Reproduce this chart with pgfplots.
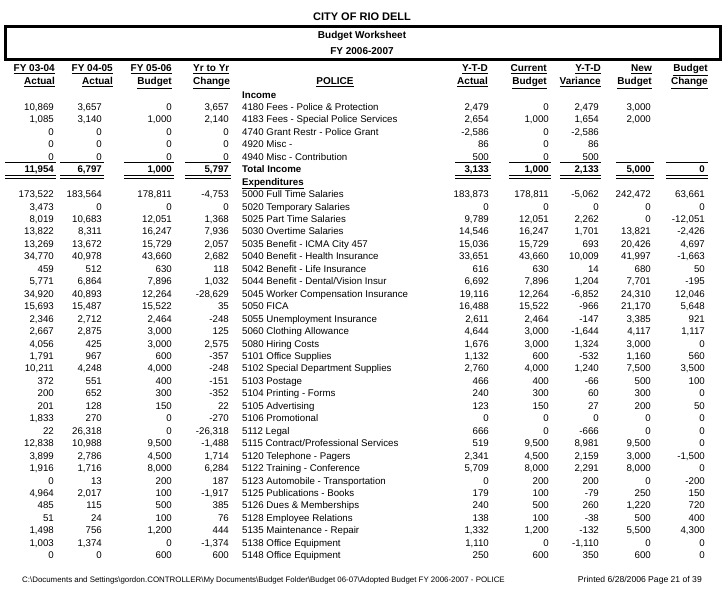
\documentclass[border=0pt]{standalone}
\usepackage{fontspec}
\setmainfont{Liberation Sans}
\usepackage{pgfplots}
\pgfplotsset{compat=1.18}
\usepackage{pgfplotstable}

% r = row index; a-d left money columns, t = account, e-i right money columns
\pgfplotstableread{
r a b c d t e f g h i
-1 {} {} {} {} {\textbf{Income}} {} {} {} {} {}
0 10,869 3,657 0 3,657 {4180 Fees - Police \& Protection} 2,479 0 2,479 3,000 {}
1 1,085 3,140 1,000 2,140 {4183 Fees - Special Police Services} 2,654 1,000 1,654 2,000 {}
2 0 0 0 0 {4740 Grant Restr - Police Grant} -2,586 0 -2,586 {} {}
3 0 0 0 0 {4920 Misc -} 86 0 86 {} {}
4 0 0 0 0 {4940 Misc - Contribution} 500 0 500 {} {}
5 {\textbf{11,954}} {\textbf{6,797}} {\textbf{1,000}} {\textbf{5,797}} {\textbf{Total Income}} {\textbf{3,133}} {\textbf{1,000}} {\textbf{2,133}} {\textbf{5,000}} {\textbf{0}}
6 {} {} {} {} {\underline{\textbf{Expenditures}}} {} {} {} {} {}
7 173,522 183,564 178,811 -4,753 {5000 Full Time Salaries} 183,873 178,811 -5,062 242,472 63,661
8 3,473 0 0 0 {5020 Temporary Salaries} 0 0 0 0 0
9 8,019 10,683 12,051 1,368 {5025 Part Time Salaries} 9,789 12,051 2,262 0 -12,051
10 13,822 8,311 16,247 7,936 {5030 Overtime Salaries} 14,546 16,247 1,701 13,821 -2,426
11 13,269 13,672 15,729 2,057 {5035 Benefit - ICMA City 457} 15,036 15,729 693 20,426 4,697
12 34,770 40,978 43,660 2,682 {5040 Benefit - Health Insurance} 33,651 43,660 10,009 41,997 -1,663
13 459 512 630 118 {5042 Benefit - Life Insurance} 616 630 14 680 50
14 5,771 6,864 7,896 1,032 {5044 Benefit - Dental/Vision Insur} 6,692 7,896 1,204 7,701 -195
15 34,920 40,893 12,264 -28,629 {5045 Worker Compensation Insurance} 19,116 12,264 -6,852 24,310 12,046
16 15,693 15,487 15,522 35 {5050 FICA} 16,488 15,522 -966 21,170 5,648
17 2,346 2,712 2,464 -248 {5055 Unemployment Insurance} 2,611 2,464 -147 3,385 921
18 2,667 2,875 3,000 125 {5060 Clothing Allowance} 4,644 3,000 -1,644 4,117 1,117
19 4,056 425 3,000 2,575 {5080 Hiring Costs} 1,676 3,000 1,324 3,000 0
20 1,791 967 600 -357 {5101 Office Supplies} 1,132 600 -532 1,160 560
21 10,211 4,248 4,000 -248 {5102 Special Department Supplies} 2,760 4,000 1,240 7,500 3,500
22 372 551 400 -151 {5103 Postage} 466 400 -66 500 100
23 200 652 300 -352 {5104 Printing - Forms} 240 300 60 300 0
24 201 128 150 22 {5105 Advertising} 123 150 27 200 50
25 1,833 270 0 -270 {5106 Promotional} 0 0 0 0 0
26 22 26,318 0 -26,318 {5112 Legal} 666 0 -666 0 0
27 12,838 10,988 9,500 -1,488 {5115 Contract/Professional Services} 519 9,500 8,981 9,500 0
28 3,899 2,786 4,500 1,714 {5120 Telephone - Pagers} 2,341 4,500 2,159 3,000 -1,500
29 1,916 1,716 8,000 6,284 {5122 Training - Conference} 5,709 8,000 2,291 8,000 0
30 0 13 200 187 {5123 Automobile - Transportation} 0 200 200 0 -200
31 4,964 2,017 100 -1,917 {5125 Publications - Books} 179 100 -79 250 150
32 485 115 500 385 {5126 Dues \& Memberships} 240 500 260 1,220 720
33 51 24 100 76 {5128 Employee Relations} 138 100 -38 500 400
34 1,498 756 1,200 444 {5135 Maintenance - Repair} 1,332 1,200 -132 5,500 4,300
35 1,003 1,374 0 -1,374 {5138 Office Equipment} 1,110 0 -1,110 0 0
36 0 0 600 600 {5148 Office Equipment} 250 600 350 600 0
}\budget

\newcommand{\dat}{\fontsize{9.7}{11}\selectfont}
\newcommand{\hd}[1]{\underline{\textbf{#1}}}
\newcommand{\col}[3]{%
  \addplot[draw=none, mark=none, nodes near coords, point meta=explicit symbolic,
    every node near coord/.style={anchor=#3, inner sep=0pt, font=\dat}]
    table[x expr=#1, y expr=110.5+12.45*\thisrow{r}, meta=#2] {\budget};}
\newcommand{\seg}[3]{\addplot[black, line width=0.7pt] coordinates {(#1,#3) (#2,#3)};}
\newcommand{\segrow}[1]{%
  \seg{5}{56}{#1}\seg{60}{104}{#1}\seg{124}{174}{#1}\seg{185}{231}{#1}
  \seg{455}{491}{#1}\seg{509}{551}{#1}\seg{560}{601}{#1}\seg{616}{654}{#1}\seg{666}{708}{#1}}

\begin{document}
\begin{tikzpicture}
\begin{axis}[
  scale only axis, width=725pt, height=593pt,
  xmin=0, xmax=725, ymin=0, ymax=593, y dir=reverse,
  axis lines=none, clip=false,
]
\col{54}{a}{base east}
\col{102}{b}{base east}
\col{172}{c}{base east}
\col{229}{d}{base east}
\col{242}{t}{base west}
\col{489}{e}{base east}
\col{549}{f}{base east}
\col{599}{g}{base east}
\col{651}{h}{base east}
\col{705}{i}{base east}

% rules round the total row
\segrow{162.5}
\segrow{175.5}
\segrow{178}

% title block
\node[font=\fontsize{11}{13}\selectfont\bfseries] at (axis cs:362,17) {CITY OF RIO DELL};
\draw[line width=3pt] (axis cs:5,26.5) rectangle (axis cs:720,60);
\node[font=\fontsize{10}{12}\selectfont\bfseries] at (axis cs:362,36) {Budget Worksheet};
\node[font=\fontsize{10}{12}\selectfont\bfseries] at (axis cs:362,51) {FY 2006-2007};

% column heads
\begin{scope}[every node/.style={inner sep=0pt, font=\fontsize{10}{12}\selectfont}]
\node[anchor=base east] at (axis cs:55,72) {\hd{FY 03-04}};
\node[anchor=base east] at (axis cs:55,85) {\hd{Actual}};
\node[anchor=base east] at (axis cs:113,72) {\hd{FY 04-05}};
\node[anchor=base east] at (axis cs:113,85) {\hd{Actual}};
\node[anchor=base east] at (axis cs:172,72) {\hd{FY 05-06}};
\node[anchor=base east] at (axis cs:172,85) {\hd{Budget}};
\node[anchor=base west] at (axis cs:193,72) {\hd{Yr to Yr}};
\node[anchor=base west] at (axis cs:193,85) {\hd{Change}};
\node[anchor=base] at (axis cs:335,85) {\hd{POLICE}};
\node[anchor=base east] at (axis cs:488,72) {\hd{Y-T-D}};
\node[anchor=base east] at (axis cs:488,85) {\hd{Actual}};
\node[anchor=base east] at (axis cs:547,72) {\hd{Current}};
\node[anchor=base east] at (axis cs:547,85) {\hd{Budget}};
\node[anchor=base east] at (axis cs:601,72) {\hd{Y-T-D}};
\node[anchor=base east] at (axis cs:601,85) {\hd{Variance}};
\node[anchor=base east] at (axis cs:652,72) {\hd{New}};
\node[anchor=base east] at (axis cs:652,85) {\hd{Budget}};
\node[anchor=base east] at (axis cs:708,72) {\hd{Budget}};
\node[anchor=base east] at (axis cs:708,85) {\hd{Change}};
\end{scope}

% footer
\node[anchor=west, inner sep=0pt, font=\fontsize{7.9}{9}\selectfont] at (axis cs:22,580)
  {C:\textbackslash Documents and Settings\textbackslash gordon.CONTROLLER\textbackslash My Documents\textbackslash Budget Folder\textbackslash Budget 06-07\textbackslash Adopted Budget FY 2006-2007 - POLICE};
\node[anchor=east, inner sep=0pt, font=\fontsize{8.6}{10}\selectfont] at (axis cs:702,580)
  {Printed 6/28/2006 Page 21 of 39};
\end{axis}
\path (current axis.south west) rectangle (current axis.north east);
\end{tikzpicture}
\end{document}
